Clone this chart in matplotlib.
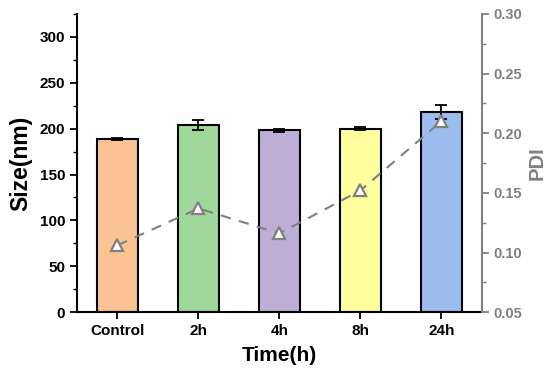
import numpy as np
import matplotlib
matplotlib.use("Agg")
import matplotlib.pyplot as plt
from matplotlib.ticker import MultipleLocator, FormatStrFormatter

plt.rcParams['font.family'] = ['Liberation Sans', 'DejaVu Sans']
plt.rcParams['font.weight'] = 'bold'

groups = ["Control", "2h", "4h", "8h", "24h"]
size_nm = [189, 204, 198, 200, 218]
size_err = [1.2, 5, 2, 2, 8]
pdi = [0.106, 0.137, 0.116, 0.152, 0.210]
bar_colors = ["#F9C394", "#A0D89B", "#BCAED6", "#FFFF9E", "#9DBCEE"]

fig = plt.figure(figsize=(5.5, 3.77), dpi=100)
ax = fig.add_axes([0.14, 0.172, 0.736, 0.791])
x = np.arange(len(groups))

ax.bar(x, size_nm, width=0.5, color=bar_colors, edgecolor="black", linewidth=1.5, zorder=2)
ax.errorbar(x, size_nm, yerr=size_err, fmt="none", ecolor="black", elinewidth=1.3,
            capsize=4, capthick=1.3, zorder=3)
ax.set_xlim(-0.5, 4.5)
ax.set_ylim(0, 325)
ax.set_xticks(x)
ax.set_xticklabels(groups)
ax.set_yticks(np.arange(0, 301, 50))
ax.yaxis.set_minor_locator(MultipleLocator(25))
ax.tick_params(axis="both", which="major", direction="out", length=5, width=1.3, labelsize=11)
ax.tick_params(axis="y", which="minor", direction="out", length=3, width=1.0)
ax.spines["top"].set_visible(False)
ax.spines["right"].set_visible(False)
ax.spines["left"].set_linewidth(1.5)
ax.spines["bottom"].set_linewidth(1.5)
ax.set_xlabel("Time(h)", fontsize=15, fontweight="bold", labelpad=6)
ax.set_ylabel("Size(nm)", fontsize=16.5, fontweight="bold", labelpad=5)

ax2 = ax.twinx()
ax2.plot(x, pdi, linestyle=(0, (5, 4)), color="#808080", linewidth=1.5,
         marker="^", markersize=9, markerfacecolor="white", markeredgecolor="#808080",
         markeredgewidth=1.6, zorder=4)
ax2.set_ylim(0.05, 0.30)
ax2.set_yticks(np.arange(0.05, 0.301, 0.05))
ax2.yaxis.set_minor_locator(MultipleLocator(0.025))
ax2.yaxis.set_major_formatter(FormatStrFormatter("%.2f"))
for s in ["top", "left", "bottom"]:
    ax2.spines[s].set_visible(False)
ax2.spines["right"].set_color("#808080")
ax2.spines["right"].set_linewidth(1.5)
ax2.tick_params(axis="y", which="major", direction="out", length=5, width=1.3,
                colors="#808080", labelsize=10.5)
ax2.tick_params(axis="y", which="minor", direction="out", length=3, width=1.0, colors="#808080")
ax2.set_ylabel("PDI", fontsize=14.5, fontweight="bold", color="#808080", labelpad=4)

fig.savefig("out.png", dpi=100)
